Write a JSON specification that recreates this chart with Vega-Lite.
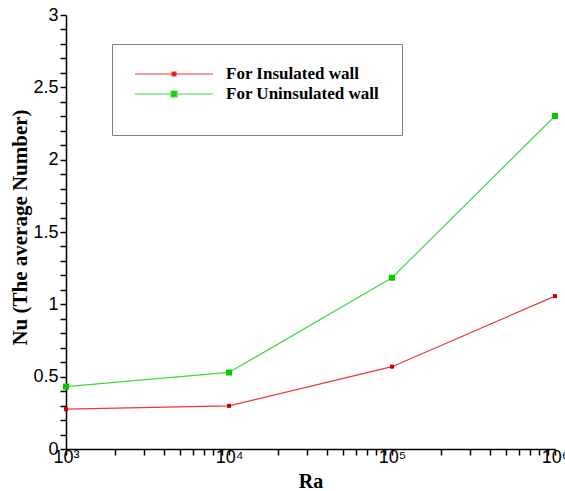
{
  "$schema": "https://vega.github.io/schema/vega-lite/v6.json",
  "width": 489,
  "height": 434,
  "autosize": {"type": "none"},
  "padding": {"left": 66, "top": 15, "right": 10, "bottom": 42},
  "background": "white",
  "config": {"view": {"stroke": null}},
  "data": {
    "values": [
      {"Ra": 1000, "Nu": 0.275, "series": "For Insulated wall"},
      {"Ra": 10000, "Nu": 0.298, "series": "For Insulated wall"},
      {"Ra": 100000, "Nu": 0.569, "series": "For Insulated wall"},
      {"Ra": 1000000, "Nu": 1.057, "series": "For Insulated wall"},
      {"Ra": 1000, "Nu": 0.431, "series": "For Uninsulated wall"},
      {"Ra": 10000, "Nu": 0.529, "series": "For Uninsulated wall"},
      {"Ra": 100000, "Nu": 1.184, "series": "For Uninsulated wall"},
      {"Ra": 1000000, "Nu": 2.302, "series": "For Uninsulated wall"}
    ]
  },
  "encoding": {
    "x": {
      "field": "Ra",
      "type": "quantitative",
      "scale": {"type": "log", "domain": [1000, 1000000], "nice": false},
      "axis": {
        "title": "Ra",
        "titleFont": "Liberation Serif",
        "titleFontWeight": "bold",
        "titleFontSize": 20,
        "titleColor": "black",
        "titleBaseline": "alphabetic",
        "titleY": 38,
        "values": [1000, 2000, 3000, 4000, 5000, 6000, 7000, 8000, 9000, 10000, 20000, 30000, 40000, 50000, 60000, 70000, 80000, 90000, 100000, 200000, 300000, 400000, 500000, 600000, 700000, 800000, 900000, 1000000],
        "labelExpr": "datum.value==1000?'10³':datum.value==10000?'10⁴':datum.value==100000?'10⁵':datum.value==1000000?'10⁶':''",
        "labelFont": "Liberation Sans",
        "labelFontSize": 18,
        "labelColor": "black",
        "labelFlush": false,
        "labelOverlap": false,
        "labelBound": false,
        "tickSize": 6,
        "labelPadding": -7,
        "encode": {
          "ticks": {
            "update": {
              "y2": {"signal": "indexof([1000,10000,100000,1000000], datum.value) >= 0 ? -10 : -6"}
            }
          }
        },
        "tickColor": "black",
        "tickWidth": 1.5,
        "domainColor": "black",
        "domainWidth": 1.5,
        "grid": false
      }
    },
    "y": {
      "field": "Nu",
      "type": "quantitative",
      "scale": {"domain": [0, 3], "nice": false},
      "axis": {
        "title": "Nu (The average Number)",
        "titleFont": "Liberation Serif",
        "titleFontWeight": "bold",
        "titleFontSize": 21,
        "titleColor": "black",
        "titleBaseline": "alphabetic",
        "titleAlign": "center",
        "titleX": -40,
        "titleY": 212,
        "values": [0, 0.1, 0.2, 0.3, 0.4, 0.5, 0.6, 0.7, 0.8, 0.9, 1, 1.1, 1.2, 1.3, 1.4, 1.5, 1.6, 1.7, 1.8, 1.9, 2, 2.1, 2.2, 2.3, 2.4, 2.5, 2.6, 2.7, 2.8, 2.9, 3],
        "labelExpr": "abs(datum.value*2-round(datum.value*2))<1e-6 ? format(datum.value,'~g') : ''",
        "labelFont": "Liberation Sans",
        "labelFontSize": 18,
        "labelColor": "black",
        "labelOverlap": false,
        "tickSize": 6,
        "labelPadding": 2,
        "encode": {
          "ticks": {
            "update": {
              "x2": {"signal": "abs(datum.value*2-round(datum.value*2))<1e-6 ? 11 : 6"}
            }
          }
        },
        "tickColor": "black",
        "tickWidth": 1.5,
        "domainColor": "black",
        "domainWidth": 1.5,
        "grid": false
      }
    }
  },
  "layer": [
    {
      "mark": {"type": "line", "strokeWidth": 1.2},
      "encoding": {
        "stroke": {
          "field": "series",
          "type": "nominal",
          "scale": {"domain": ["For Insulated wall", "For Uninsulated wall"], "range": ["#e8383c", "#3cdc3c"]},
          "legend": {
            "title": "\u00a0",
            "titleOrient": "bottom",
            "titleFontSize": 12,
            "titlePadding": 0,
            "orient": "none",
            "legendX": 46,
            "legendY": 29,
            "padding": 22,
            "clipHeight": 16,
            "strokeColor": "#808080",
            "fillColor": "white",
            "symbolType": "M-1,0H1M-0.05,-0.05H0.05V0.05H-0.05Z",
            "symbolSize": 6084,
            "symbolStrokeWidth": 1.2,
            "labelFont": "Liberation Serif",
            "labelFontWeight": "bold",
            "labelFontSize": 17,
            "labelColor": "black",
            "labelOffset": 12,
            "labelLimit": 400,
            "rowPadding": 3,
            "labelExpr": "datum.label + '\u00a0\u00a0\u00a0\u00a0\u00a0'",
            "encode": {
              "symbols": {
                "update": {
                  "size": {"value": 6084},
                  "opacity": {"value": 1},
                  "strokeWidth": {"value": 1.2},
                  "stroke": {"signal": "datum.value=='For Insulated wall' ? '#e8383c' : '#3cdc3c'"},
                  "fill": {"signal": "datum.value=='For Insulated wall' ? '#cc0000' : '#00cc00'"},
                  "shape": {"signal": "datum.value=='For Insulated wall' ? 'M-1,0H1M-0.05,-0.05H0.05V0.05H-0.05Z' : 'M-1,0H1M-0.075,-0.075H0.075V0.075H-0.075Z'"}
                }
              }
            }
          }
        }
      }
    },
    {
      "transform": [{"filter": "datum.series == 'For Insulated wall'"}],
      "mark": {"type": "point", "shape": "square", "filled": true, "opacity": 1, "size": 16, "color": "#cc0000"}
    },
    {
      "transform": [{"filter": "datum.series == 'For Uninsulated wall'"}],
      "mark": {"type": "point", "shape": "square", "filled": true, "opacity": 1, "size": 36, "color": "#00cc00"}
    }
  ]
}
